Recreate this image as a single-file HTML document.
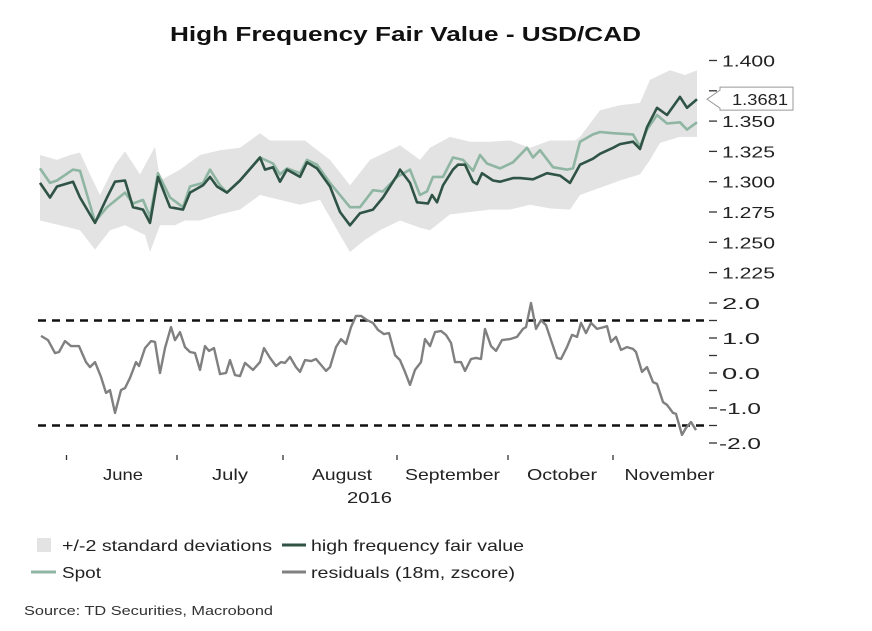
<!DOCTYPE html>
<html><head><meta charset="utf-8"><style>
html,body{margin:0;padding:0;background:#fff;}
svg{display:block;font-family:"Liberation Sans",Arial,sans-serif;}
</style></head><body>
<svg id="chart" width="872" height="631" viewBox="0 0 872 631" xmlns="http://www.w3.org/2000/svg">
<text x="170" y="41" font-size="20" font-weight="bold" fill="#111" textLength="471" lengthAdjust="spacingAndGlyphs">High Frequency Fair Value - USD/CAD</text>
<g id="band"></g><g id="lines"></g><g id="resid"></g><g id="axes"></g>
<g>
<rect x="37" y="538" width="14" height="14" fill="#e3e3e3"/>
<text x="62" y="551" font-size="16" fill="#222" textLength="210" lengthAdjust="spacingAndGlyphs">+/-2 standard deviations</text>
<line x1="282" y1="545" x2="306" y2="545" stroke="#2f5446" stroke-width="3"/>
<text x="311" y="551" font-size="16" fill="#222" textLength="213" lengthAdjust="spacingAndGlyphs">high frequency fair value</text>
<line x1="31" y1="572" x2="56" y2="572" stroke="#8fb5a3" stroke-width="3"/>
<text x="62" y="578" font-size="16" fill="#222" textLength="39" lengthAdjust="spacingAndGlyphs">Spot</text>
<line x1="282" y1="572" x2="306" y2="572" stroke="#808080" stroke-width="3"/>
<text x="311" y="578" font-size="16" fill="#222" textLength="204" lengthAdjust="spacingAndGlyphs">residuals (18m, zscore)</text>
</g>
<text x="24" y="615" font-size="13" fill="#333" textLength="249" lengthAdjust="spacingAndGlyphs">Source: TD Securities, Macrobond</text>
</svg>
<script>
const fvDays=[0.4,2.4,3.8,7,8.4,11.4,13.8,15.4,17.4,19,21,22.4,24,26.4,29,30.4,33,34.4,35.8,37.8,40.4,44.4,45.4,47,48.4,49.8,52.4,53.8,55.8,58.4,60.4,62.4,64.4,67,69,71.8,72.4,74.4,75.8,78,78.8,79.8,81,83,84,85.4,87,87.8,88.8,91,92.4,95,96.4,99,101.8,104.4,106.4,108.4,111,112.4,115,116.4,119,120.4,121.8,123.8,125.8,128.4,129.8,131.8];
const fvVals=[1.299,1.287,1.296,1.300,1.287,1.266,1.287,1.300,1.301,1.279,1.277,1.266,1.304,1.279,1.277,1.291,1.297,1.304,1.296,1.291,1.301,1.320,1.310,1.312,1.300,1.310,1.304,1.316,1.311,1.296,1.275,1.264,1.274,1.277,1.287,1.305,1.310,1.299,1.283,1.282,1.289,1.283,1.297,1.310,1.314,1.314,1.300,1.298,1.307,1.301,1.300,1.303,1.303,1.302,1.307,1.305,1.299,1.314,1.319,1.323,1.328,1.331,1.333,1.327,1.345,1.361,1.355,1.370,1.361,1.368];
const spotDays=[0.4,2.4,3.8,7,8.4,11.4,13.8,17.4,19,21,22.4,24,26.4,29,30.4,33,34.4,36.4,37.8,40.4,44.4,47,48.4,49.8,52.4,53.8,55.8,58.4,62.4,64.4,67,69,71.8,74.4,76.4,77.8,79,81,83,85,87,88.4,89.8,92.4,95,97.8,99,100.4,103,105.8,107,108.4,111,112.4,115,119,120.4,121.8,123.8,125.8,128.4,129.8,131.8];
const spotVals=[1.311,1.299,1.301,1.310,1.309,1.267,1.279,1.291,1.282,1.285,1.271,1.307,1.287,1.279,1.296,1.299,1.310,1.297,1.291,1.301,1.320,1.315,1.306,1.311,1.307,1.318,1.314,1.299,1.279,1.279,1.293,1.292,1.304,1.310,1.289,1.292,1.304,1.304,1.320,1.318,1.309,1.322,1.315,1.311,1.316,1.328,1.320,1.326,1.312,1.310,1.311,1.333,1.339,1.341,1.340,1.339,1.329,1.343,1.355,1.348,1.349,1.343,1.349];
const upDays=[0.4,3.8,6.4,8.4,10.4,12.4,15.4,17.4,20.4,23.4,24.4,28.4,32.4,36.4,40.4,44.4,46.4,50.4,53.4,58.4,62.4,66.4,70.4,72.4,76.4,78.4,82.4,86.4,90.4,94.4,98.4,102.4,107.4,108.4,112.4,116.4,120.4,122.4,124.4,126.4,129.4,131.8];
const upVals=[1.322,1.318,1.322,1.324,1.306,1.289,1.314,1.325,1.306,1.329,1.301,1.310,1.322,1.326,1.328,1.340,1.334,1.334,1.334,1.318,1.297,1.318,1.326,1.330,1.318,1.328,1.337,1.333,1.333,1.334,1.328,1.334,1.334,1.337,1.359,1.363,1.365,1.384,1.388,1.392,1.388,1.392];
const loDays=[0.4,4.4,8.4,11.4,14.4,17.4,21.4,22.4,24.4,27.4,29.4,32.4,36.4,40.4,44.4,48.4,52.4,56.4,60.4,62.4,65.4,68.4,72.4,76.4,78.4,82.4,86.4,90.4,94.4,98.4,102.4,106.4,108.4,112.4,116.4,120.4,122.4,124.4,128.4,131.8];
const loVals=[1.268,1.264,1.260,1.244,1.260,1.264,1.256,1.242,1.264,1.264,1.268,1.268,1.273,1.277,1.289,1.285,1.281,1.285,1.256,1.242,1.252,1.260,1.268,1.262,1.260,1.273,1.275,1.277,1.277,1.281,1.278,1.277,1.289,1.295,1.301,1.306,1.318,1.332,1.337,1.337];
const resDays=[0.6,2,3.4,4.2,5.4,6.6,8.2,9.6,10.4,11.4,12.6,13.6,14.4,15.4,16.6,17.4,18.4,19.6,20.2,21.4,22.6,23.4,24.4,25.4,26.6,27.4,28.4,29.4,30.4,31.4,32.4,33.4,34.2,35.2,36.4,37.6,38.4,39.4,40.4,41.4,43,44.4,45.2,46.4,47.6,48.6,49.4,50.4,51.6,52.4,53.4,54.6,55.6,56.6,57.6,58.4,59.6,60.6,61.6,62.6,63.6,64.6,65.8,67,68,69.2,70.2,71.4,72.4,73.4,74.4,75.4,76.6,77.4,78.4,79.4,80.6,81.6,82.6,83.4,84.6,85.4,86.6,87.6,88.6,89.4,90.6,91.6,92.8,94.4,95.8,97,97.6,98.6,99.6,100.6,101.6,102.6,103.8,104.6,105.8,106.8,107.8,108.6,109.6,110.6,111.8,113.2,113.8,114.6,115.6,116.6,117.8,119,119.6,120.8,121.8,123,123.8,125,125.8,127,127.6,128.8,129.6,130.6,131.6];
const resVals=[1.06,0.94,0.57,0.6,0.91,0.77,0.77,0.31,0.17,0.31,-0.11,-0.57,-0.49,-1.14,-0.49,-0.43,-0.14,0.31,0.2,0.71,0.91,0.89,0,0.71,1.31,0.94,1.17,0.74,0.6,0.57,0.09,0.77,0.63,0.71,-0.03,0,0.37,-0.06,-0.09,0.29,0.09,0.31,0.71,0.43,0.2,0.31,0.29,0.46,0.17,0.03,0.37,0.34,0.4,0.23,0.06,0.17,0.74,0.97,0.83,1.31,1.63,1.63,1.51,1.43,1.23,1.11,1.14,0.51,0.37,0.03,-0.34,0.09,0.31,0.97,0.77,1.17,1.2,1.09,0.86,0.31,0.31,0.06,0.4,0.43,0.4,1.26,0.77,0.63,0.94,0.97,1.03,1.26,1.31,2.0,1.26,1.51,1.37,0.94,0.43,0.4,0.74,1.09,1.03,1.43,1.14,1.43,1.26,1.31,1.34,0.89,1.03,0.66,0.74,0.69,0.6,0.03,0.17,-0.26,-0.31,-0.83,-0.91,-1.14,-1.17,-1.77,-1.57,-1.4,-1.63];
const topTicks=[1.400,1.375,1.350,1.325,1.300,1.275,1.250,1.225];
const topTickLabels=["1.400","","1.350","1.325","1.300","1.275","1.250","1.225"];
const botTicks=[2,1.5,1,0.5,0,-0.5,-1,-1.5,-2];
const botLabels=["2.0","1.0","0.0","-1.0","-2.0"];
const botLabelVals=[2,1,0,-1,-2];
const bandLines=[1.5,-1.5];
const monthTickDays=[5.7,27.8,49,71.8,94,115];
const monthNames=["June","July","August","September","October","November"];
const monthLabelDays=[17,38.4,60.8,82.9,104.8,126.3];
const monthLabelWidths=[40,36,60,95,70,90];
const lastValue=1.3681;

const NS="http://www.w3.org/2000/svg";
const X=d=>38+5*d;
const YT=v=>60.5+(1.400-v)/0.025*30.3;
const YB=v=>373-v*35;
function mk(tag,attrs,parent){const e=document.createElementNS(NS,tag);for(const k in attrs)e.setAttribute(k,attrs[k]);parent.appendChild(e);return e;}
function path(days,vals,ys){return days.map((d,i)=>(i?"L":"M")+X(d).toFixed(1)+","+ys(vals[i]).toFixed(1)).join("");}
const band=document.getElementById("band"),lines=document.getElementById("lines"),resid=document.getElementById("resid"),axes=document.getElementById("axes");

let bd=path(upDays,upVals,YT);
for(let i=loDays.length-1;i>=0;i--)bd+="L"+X(loDays[i]).toFixed(1)+","+YT(loVals[i]).toFixed(1);
const bp=mk("path",{d:bd+"Z",fill:"#e3e3e3"},band);



const sp=mk("path",{d:path(spotDays,spotVals,YT),fill:"none",stroke:"#8fb5a3","stroke-width":2.6,"stroke-linejoin":"round"},lines);


const fv=mk("path",{d:path(fvDays,fvVals,YT),fill:"none",stroke:"#2f5446","stroke-width":2.6,"stroke-linejoin":"round"},lines);



bandLines.forEach(v=>{
 const l=mk("line",{x1:38,x2:706,y1:YB(v),y2:YB(v),stroke:"#111","stroke-width":2.6,"stroke-dasharray":"8,6"},resid);
 
 
});
const rp=mk("path",{d:path(resDays,resVals,YB),fill:"none",stroke:"#808080","stroke-width":2.4,"stroke-linejoin":"round"},resid);



topTicks.forEach((v,i)=>{
 const t=mk("line",{x1:709,x2:717,y1:YT(v),y2:YT(v),stroke:"#333","stroke-width":1.3},axes);
 
 
 if(topTickLabels[i]){const tx=mk("text",{x:722,y:YT(v)+6,"font-size":16,fill:"#222",textLength:53,lengthAdjust:"spacingAndGlyphs"},axes);tx.textContent=topTickLabels[i];
 
 }
});
botTicks.forEach(v=>{
 const t=mk("line",{x1:709,x2:717,y1:YB(v),y2:YB(v),stroke:"#333","stroke-width":1.3},axes);
 
 
});
botLabelVals.forEach((v,i)=>{
 const neg=v<0;
 const tx=mk("text",{x:neg?719:722,y:YB(v)+6,"font-size":16,fill:"#222",textLength:neg?42:38,lengthAdjust:"spacingAndGlyphs"},axes);tx.textContent=botLabels[i];
 
 
});
monthTickDays.forEach(d=>{
 const t=mk("line",{x1:X(d),x2:X(d),y1:455,y2:460,stroke:"#333","stroke-width":1.3},axes);
 
 
});
monthNames.forEach((m,i)=>{
 const tx=mk("text",{x:X(monthLabelDays[i])-monthLabelWidths[i]/2,y:480,"font-size":16,fill:"#222",textLength:monthLabelWidths[i],lengthAdjust:"spacingAndGlyphs"},axes);tx.textContent=m;
 
 
});
const yr=mk("text",{x:347,y:503,"font-size":16,fill:"#222",textLength:45,lengthAdjust:"spacingAndGlyphs"},axes);yr.textContent="2016";



const cy=YT(lastValue);
const cb=mk("path",{d:`M707,${cy}L720,${cy-9}L720,${cy-12}L793,${cy-12}L793,${cy+11}L720,${cy+11}L720,${cy+9}Z`,fill:"#fff",stroke:"#999","stroke-width":1},axes);


const ct=mk("text",{x:732,y:cy+6,"font-size":16,fill:"#222",textLength:56,lengthAdjust:"spacingAndGlyphs"},axes);ct.textContent=lastValue.toFixed(4);


</script>
</body></html>
